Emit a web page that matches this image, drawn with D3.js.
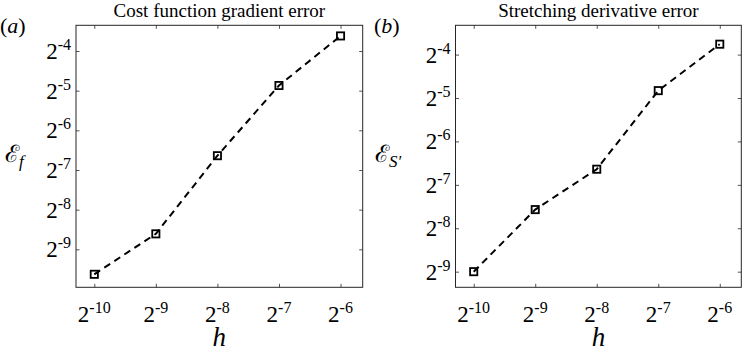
<!DOCTYPE html>
<html>
<head>
<meta charset="utf-8">
<script src="https://cdn.jsdelivr.net/npm/d3@7"></script>
<style>
  html, body { margin: 0; padding: 0; background: #fff; }
  svg { display: block; }
</style>
</head>
<body>
<svg id="chart" width="747" height="352"></svg>
<script>
// ---- data ----
const hValues = [0.0009765625, 0.001953125, 0.00390625, 0.0078125, 0.015625];
const errorF = [0.001262, 0.002559, 0.010027, 0.034197, 0.08133];
const errorS = [0.001953, 0.005262, 0.010027, 0.03516, 0.07381];
const xTickExps = [-10, -9, -8, -7, -6];
const yTickExpsA = [-9, -8, -7, -6, -5, -4];
const yTickExpsB = [-9, -8, -7, -6, -5, -4];
const titles = ["Cost function gradient error", "Stretching derivative error"];
const panelTags = ["a", "b"];

// ---- layout ----
const SERIF = "Liberation Serif";
const svg = d3.select("#chart").attr("font-family", SERIF);
const panels = [
  { left: 76, right: 362.7, top: 25.3, bottom: 287.3, xExp: [-10.297, -5.64], yExp: [-9.958, -3.352],
    values: errorF, yTicks: yTickExpsA, title: titles[0], tag: panelTags[0], ylab: "f", ylabX: 5, tagX: 0 },
  { left: 455.5, right: 741.3, top: 25.3, bottom: 287.3, xExp: [-10.296, -5.65], yExp: [-9.36, -3.325],
    values: errorS, yTicks: yTickExpsB, title: titles[1], tag: panelTags[1], ylab: "S′", ylabX: 375, tagX: 374 }
];

const tickFont = 23, supFont = 16, supShift = 9;

panels.forEach((p, i) => {
  const x = d3.scaleLog().base(2).domain(p.xExp.map(e => Math.pow(2, e))).range([p.left, p.right]);
  const y = d3.scaleLog().base(2).domain(p.yExp.map(e => Math.pow(2, e))).range([p.bottom, p.top]);
  const g = svg.append("g");

  const xt = xTickExps.map(e => Math.pow(2, e));
  const yt = p.yTicks.map(e => Math.pow(2, e));
  const tickStyle = sel => {
    sel.select(".domain").remove();
    sel.selectAll(".tick line").attr("stroke", "#262626").attr("stroke-width", 0.8);
    sel.selectAll(".tick text").remove();
  };
  g.append("g").attr("transform", `translate(0,${p.bottom})`)
    .call(d3.axisBottom(x).tickValues(xt).tickSize(-3.5).tickFormat(() => "")).call(tickStyle);
  g.append("g").attr("transform", `translate(0,${p.top})`)
    .call(d3.axisTop(x).tickValues(xt).tickSize(-3.5).tickFormat(() => "")).call(tickStyle);
  g.append("g").attr("transform", `translate(${p.left},0)`)
    .call(d3.axisLeft(y).tickValues(yt).tickSize(-3.5).tickFormat(() => "")).call(tickStyle);
  g.append("g").attr("transform", `translate(${p.right},0)`)
    .call(d3.axisRight(y).tickValues(yt).tickSize(-3.5).tickFormat(() => "")).call(tickStyle);

  // box
  g.append("rect").attr("x", p.left).attr("y", p.top)
    .attr("width", p.right - p.left).attr("height", p.bottom - p.top)
    .attr("fill", "none").attr("stroke", "#262626").attr("stroke-width", 1);

  // x tick labels
  xTickExps.forEach(e => {
    const t = g.append("text").attr("x", x(Math.pow(2, e))).attr("y", 322)
      .attr("font-family", SERIF).attr("text-anchor", "middle").attr("font-size", tickFont);
    t.append("tspan").text("2");
    t.append("tspan").attr("dy", -supShift).attr("font-size", supFont).text(String(e));
  });
  // y tick labels
  p.yTicks.forEach(e => {
    const t = g.append("text").attr("x", p.left - 5).attr("y", y(Math.pow(2, e)) + 8)
      .attr("font-family", SERIF).attr("text-anchor", "end").attr("font-size", tickFont);
    t.append("tspan").text("2");
    t.append("tspan").attr("dy", -supShift).attr("font-size", supFont).text(String(e));
  });

  // line
  const pts = hValues.map((h, k) => [x(h), y(p.values[k])]);
  g.append("path").attr("d", d3.line()(pts))
    .attr("fill", "none").attr("stroke", "#000").attr("stroke-width", 2)
    .attr("stroke-dasharray", "7,5");
  // markers
  g.selectAll("rect.mk").data(pts).enter().append("rect").attr("class", "mk")
    .attr("x", d => d[0] - 3.6).attr("y", d => d[1] - 3.6)
    .attr("width", 7.2).attr("height", 7.2)
    .attr("fill", "none").attr("stroke", "#000").attr("stroke-width", 1.8);

  // title
  g.append("text").attr("x", (p.left + p.right) / 2).attr("y", 17)
    .attr("font-family", SERIF).attr("text-anchor", "middle").attr("font-size", 19).text(p.title);
  // panel tag
  const tg = g.append("text").attr("x", p.tagX).attr("y", 33)
    .attr("font-family", SERIF).attr("font-size", 22);
  tg.append("tspan").text("(");
  tg.append("tspan").attr("font-style", "italic").text(p.tag);
  tg.append("tspan").text(")");
  // x label
  g.append("text").attr("x", (p.left + p.right) / 2).attr("y", 346)
    .attr("font-family", SERIF).attr("text-anchor", "middle").attr("font-size", 27)
    .attr("font-style", "italic").text("h");
  // y label
  const yl = g.append("text").attr("x", p.ylabX).attr("y", 162).attr("font-family", SERIF);
  yl.append("tspan").attr("font-family", "DejaVu Serif").attr("font-size", 24).text("ℰ");
  yl.append("tspan").attr("dy", 5).attr("font-size", 17).attr("font-style", "italic").text(p.ylab);
});
</script>
</body>
</html>
